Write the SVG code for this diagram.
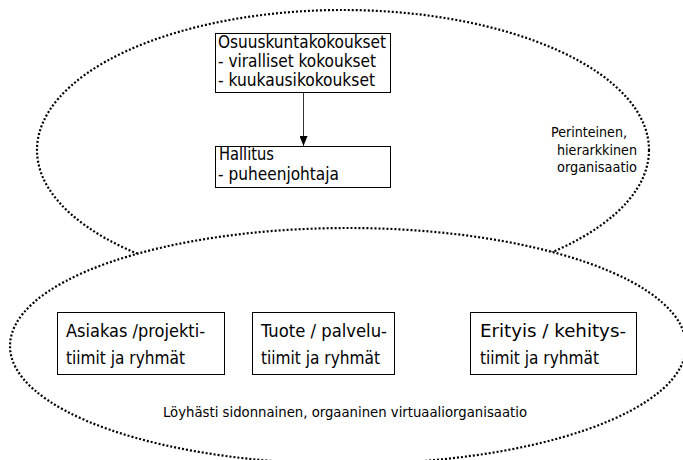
<svg xmlns="http://www.w3.org/2000/svg" width="683" height="460" viewBox="0 0 683 460">
  <style>
    .dot { fill: #fff; stroke: #000; stroke-width: 2.2; stroke-dasharray: 2 2; }
    .box { fill: #fff; stroke: #000; stroke-width: 1; }
    text { font-family: "DejaVu Sans Condensed", "DejaVu Sans", sans-serif; fill: #000; }
    .big { font-size: 17px; }
    .small { font-size: 14.5px; }
    .conn { stroke: #333; stroke-width: 1; fill: none; }
  </style>
  <defs>
    <marker id="arr" markerWidth="10" markerHeight="8" refX="10" refY="4" orient="auto" markerUnits="userSpaceOnUse" viewBox="0 0 10 8">
      <path d="M0,0 L10,4 L0,8 Z" fill="#000"/>
    </marker>
  </defs>

  <g id="traditional-org">
    <ellipse class="dot" cx="343" cy="150" rx="306" ry="140"/>
    <text class="small" x="551" y="137" textLength="76" lengthAdjust="spacingAndGlyphs">Perinteinen,</text>
    <text class="small" x="557" y="155" textLength="80" lengthAdjust="spacingAndGlyphs">hierarkkinen</text>
    <text class="small" x="557" y="172" textLength="80" lengthAdjust="spacingAndGlyphs">organisaatio</text>
  </g>

  <g id="virtual-org">
    <ellipse class="dot" cx="348" cy="346" rx="338" ry="118"/>
    <text class="small" x="163" y="417" textLength="364" lengthAdjust="spacingAndGlyphs">Löyhästi sidonnainen, orgaaninen virtuaaliorganisaatio</text>
  </g>

  <g id="osuuskuntakokoukset">
    <rect class="box" x="215.5" y="33.5" width="175" height="59"/>
    <text class="big" x="218" y="48" textLength="168" lengthAdjust="spacingAndGlyphs">Osuuskuntakokoukset</text>
    <text class="big" x="218" y="67" textLength="158" lengthAdjust="spacingAndGlyphs">- viralliset kokoukset</text>
    <text class="big" x="218" y="86" textLength="157" lengthAdjust="spacingAndGlyphs">- kuukausikokoukset</text>
  </g>

  <g id="hallitus">
    <rect class="box" x="215.5" y="146.5" width="175" height="41"/>
    <text class="big" x="219" y="160" textLength="55" lengthAdjust="spacingAndGlyphs">Hallitus</text>
    <text class="big" x="218" y="180" textLength="121" lengthAdjust="spacingAndGlyphs">- puheenjohtaja</text>
  </g>

  <g id="asiakas">
    <rect class="box" x="57.5" y="312.5" width="167" height="62"/>
    <text class="big" x="66" y="337" textLength="139" lengthAdjust="spacingAndGlyphs">Asiakas /projekti-</text>
    <text class="big" x="66" y="364" textLength="119" lengthAdjust="spacingAndGlyphs">tiimit ja ryhmät</text>
  </g>

  <g id="tuote">
    <rect class="box" x="252.5" y="312.5" width="142" height="62"/>
    <text class="big" x="261" y="337" textLength="126" lengthAdjust="spacingAndGlyphs">Tuote / palvelu-</text>
    <text class="big" x="261" y="364" textLength="119" lengthAdjust="spacingAndGlyphs">tiimit ja ryhmät</text>
  </g>

  <g id="erityis">
    <rect class="box" x="470.5" y="312.5" width="166" height="62"/>
    <text class="big" x="480" y="337" textLength="146" lengthAdjust="spacingAndGlyphs">Erityis / kehitys-</text>
    <text class="big" x="480" y="364" textLength="119" lengthAdjust="spacingAndGlyphs">tiimit ja ryhmät</text>
  </g>

  <g id="connectors">
    <line class="conn" x1="303.5" y1="93" x2="303.5" y2="146" marker-end="url(#arr)"/>
  </g>
</svg>
